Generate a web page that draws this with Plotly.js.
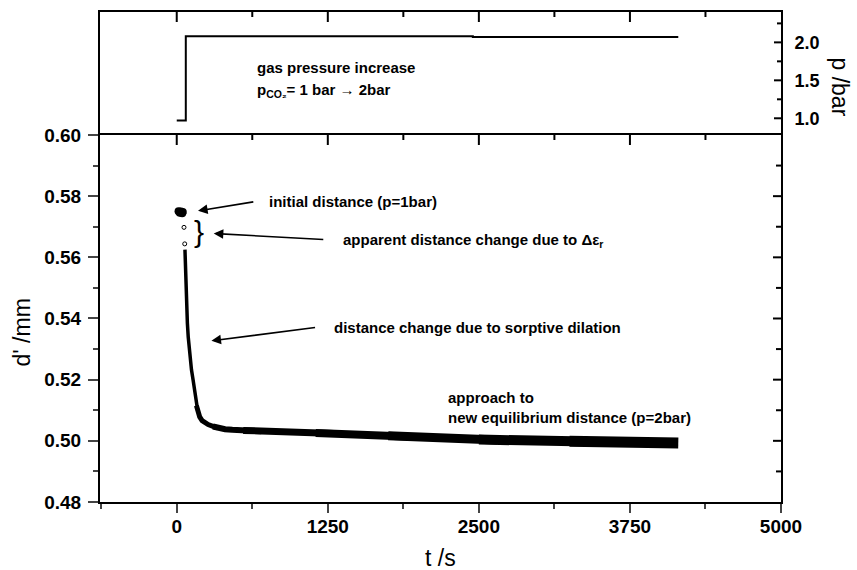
<!DOCTYPE html>
<html>
<head>
<meta charset="utf-8">
<script src="https://cdn.plot.ly/plotly-3.0.1.min.js"></script>
<style>html,body{margin:0;padding:0;background:#fff;}#chart{width:857px;height:570px;}</style>
</head>
<body>
<div id="chart"></div>
<script>
// ---- data ----
// pressure step (top panel)
const tPress = [0, 75, 2450, 4150];
const pPress = [0.97, 2.08, 2.07, 2.07];

// initial distance cluster (p = 1 bar)
const tInit = [15, 25, 35, 45, 50];
const dInit = [0.5751, 0.5746, 0.5750, 0.5744, 0.5748];

// apparent jump points (open circles)
const tJump = [60, 66];
const dJump = [0.5698, 0.5644];

// distance decay after pressure increase
const tCurve = [68, 71, 74, 78, 83, 88, 95, 103, 112, 122, 135, 150, 163, 175, 190, 210, 232, 260, 300, 340, 400, 460,
  550, 700, 850, 1000, 1150, 1300, 1450, 1600, 1750, 1900, 2050, 2200, 2350, 2500, 2650, 2800, 2950, 3100,
  3250, 3400, 3550, 3700, 3850, 4000, 4150];
const dCurve = [0.5625, 0.5580, 0.5530, 0.5470, 0.5420, 0.5385, 0.5340, 0.5300, 0.5265, 0.5232, 0.5200, 0.5155, 0.5115,
  0.5095, 0.5078, 0.5066, 0.5060, 0.5053, 0.5047, 0.5042, 0.5038, 0.5036,
  0.5034, 0.5031, 0.5030, 0.5027, 0.5026, 0.5024, 0.5022, 0.5019, 0.5017, 0.5014, 0.5011, 0.5008, 0.5006, 0.5004,
  0.5003, 0.5002, 0.5001, 0.5000, 0.4999, 0.4998, 0.4997, 0.4995, 0.4994, 0.4993, 0.4993];

// axis ranges and tick settings
const tRange = [-635, 5000];
const dRange = [0.48, 0.60];
const pRange = [0.78, 2.40];
const tTickStep = 1250, tMinorStep = 625;
const dTickStep = 0.02, dMinorStep = 0.01;
const pTickStep = 0.5, pMinorStep = 0.25;

// ---- build ----
const FONT = 'Liberation Sans, Arial, sans-serif';
const W = 857, H = 570, M = {l: 100, r: 76, t: 12, b: 68};
const PW = W - M.l - M.r, PH = H - M.t - M.b;
const mainTop = 0.749;

function pick(lo, hi) {
  const xs = [], ys = [];
  tCurve.forEach((t, i) => { if (t >= lo && t <= hi) { xs.push(t); ys.push(dCurve[i]); } });
  return {xs, ys};
}
const segs = [[0, 175, 3.5], [163, 340, 5], [300, 700, 6], [550, 1300, 7], [1150, 1900, 8], [1750, 2650, 9], [2500, 3400, 10], [3250, 5000, 11]];

const traces = [
  {x: tPress, y: pPress, xaxis: 'x2', yaxis: 'y2', mode: 'lines', line: {color: '#000', width: 2, shape: 'hv'}},
  {x: tInit, y: dInit, mode: 'markers', marker: {color: '#000', size: 8, symbol: 'circle'}},
  {x: tJump, y: dJump, mode: 'markers', marker: {color: '#fff', size: 4, symbol: 'circle', line: {color: '#000', width: 1}}}
];
segs.forEach(s => {
  const p = pick(s[0], s[1]);
  traces.push({x: p.xs, y: p.ys, mode: 'lines', line: {color: '#000', width: s[2]}});
});

// inward-pointing ticks on the mirrored sides (top of both panels, right of main panel, right of top panel)
const shapes = [];
const LW = 2;
function isMajor(v, step) { return Math.abs(v / step - Math.round(v / step)) < 1e-6; }
for (let i = 0; i * tMinorStep < tRange[1]; i++) {
  const v = i * tMinorStep;
  const len = (isMajor(v, tTickStep) ? 10 : 5) / PH;
  [['x', mainTop], ['x2', 1]].forEach(r => {
    shapes.push({type: 'line', xref: r[0], yref: 'paper', x0: v, x1: v, y0: r[1], y1: r[1] - len,
      line: {color: '#000', width: LW}});
  });
}
for (let i = 1; dRange[0] + i * dMinorStep < dRange[1] - 1e-9; i++) {
  const v = dRange[0] + i * dMinorStep;
  const len = (isMajor(v, dTickStep) ? 8 : 5) / PW;
  shapes.push({type: 'line', xref: 'paper', yref: 'y', x0: 1, x1: 1 - len, y0: v, y1: v,
    line: {color: '#000', width: LW}});
}
for (let i = Math.ceil(pRange[0] / pMinorStep); i * pMinorStep < pRange[1]; i++) {
  const v = i * pMinorStep;
  const len = (isMajor(v, pTickStep) ? 7 : 4) / PW;
  shapes.push({type: 'line', xref: 'paper', yref: 'y2', x0: 1, x1: 1 - len, y0: v, y1: v,
    line: {color: '#000', width: LW}});
}

const tickFont = {family: FONT, size: 19, color: '#000', weight: 'bold'};
const annFont = {family: FONT, size: 15, color: '#000', weight: 'bold'};
function txt(x, y, text, ref) {
  return {x, y, xref: ref ? 'x2' : 'x', yref: ref ? 'y2' : 'y', text, showarrow: false, xanchor: 'left', yanchor: 'middle', font: annFont};
}
function arr(hx, hy, tx, ty) {
  return {x: hx, y: hy, ax: tx, ay: ty, xref: 'x', yref: 'y', axref: 'x', ayref: 'y', text: '', showarrow: true,
    arrowhead: 2, arrowsize: 1.2, arrowwidth: 1.6, arrowcolor: '#000', standoff: 0, startstandoff: 0};
}

const layout = {
  width: W, height: H,
  margin: M,
  paper_bgcolor: '#fff', plot_bgcolor: 'rgba(0,0,0,0)',
  showlegend: false,
  font: {family: FONT, color: '#000'},
  xaxis: {domain: [0, 1], anchor: 'y', range: tRange, tick0: 0, dtick: tTickStep, ticks: 'outside', ticklen: 9, tickwidth: 2,
    minor: {dtick: tMinorStep, tick0: 0, ticks: 'outside', ticklen: 5, tickwidth: 2}, showline: true, linewidth: 2, linecolor: '#000', mirror: true,
    showgrid: false, zeroline: false, tickfont: tickFont, ticklabelstandoff: -3},
  yaxis: {domain: [0, mainTop], anchor: 'x', range: dRange, tick0: 0.48, dtick: dTickStep, tickformat: '.2f', ticks: 'outside', ticklen: 10, tickwidth: 2,
    minor: {dtick: dMinorStep, ticks: 'outside', ticklen: 5, tickwidth: 2}, showline: true, linewidth: 2, linecolor: '#000', mirror: true,
    showgrid: false, zeroline: false, tickfont: tickFont, ticklabelstandoff: 3},
  xaxis2: {domain: [0, 1], anchor: 'y2', side: 'top', range: tRange, ticks: '', showticklabels: false, showline: true, linewidth: 2, linecolor: '#000',
    mirror: false, showgrid: false, zeroline: false},
  yaxis2: {domain: [mainTop, 1], anchor: 'x2', side: 'right', range: pRange, tick0: 0, dtick: pTickStep, tickformat: '.1f', ticks: '',
    showline: true, linewidth: 2, linecolor: '#000', mirror: true,
    showgrid: false, zeroline: false, tickfont: {family: FONT, size: 18, color: '#000', weight: 'bold'}, ticklabelstandoff: 8},
  shapes: shapes,
  annotations: [
    txt(646, 1.665, 'gas pressure increase', true),
    txt(646, 1.36, 'p<sub>CO₂</sub>= 1 bar → 2bar', true),
    txt(745, 0.5782, 'initial distance (p=1bar)'),
    txt(1363, 0.5655, 'apparent distance change due to Δε<sub>r</sub>'),
    txt(1281, 0.5372, 'distance change due to sorptive dilation'),
    txt(2230, 0.5143, 'approach to'),
    txt(2230, 0.5076, 'new equilibrium distance (p=2bar)'),
    arr(176, 0.5752, 646, 0.5782),
    arr(306, 0.5678, 1225, 0.5658),
    arr(287, 0.5327, 1157, 0.5371),
    {x: 182, y: 0.5683, xref: 'x', yref: 'y', text: '}', showarrow: false, xanchor: 'center', yanchor: 'middle',
      font: {family: FONT, size: 30, color: '#000'}},
    {x: 0.5007, y: -0.1143, xref: 'paper', yref: 'paper', text: 't /s', showarrow: false, xanchor: 'center', yanchor: 'middle',
      font: {family: FONT, size: 23, color: '#000'}},
    {x: -0.1145, y: 0.346, xref: 'paper', yref: 'paper', text: "d' /mm", textangle: -90, showarrow: false, xanchor: 'center', yanchor: 'middle',
      font: {family: FONT, size: 23, color: '#000'}},
    {x: 1.0866, y: 0.846, xref: 'paper', yref: 'paper', text: 'p /bar', textangle: 90, showarrow: false, xanchor: 'center', yanchor: 'middle',
      font: {family: FONT, size: 23, color: '#000'}}
  ]
};

Plotly.newPlot('chart', traces, layout, {staticPlot: true, displayModeBar: false});
</script>
</body>
</html>
